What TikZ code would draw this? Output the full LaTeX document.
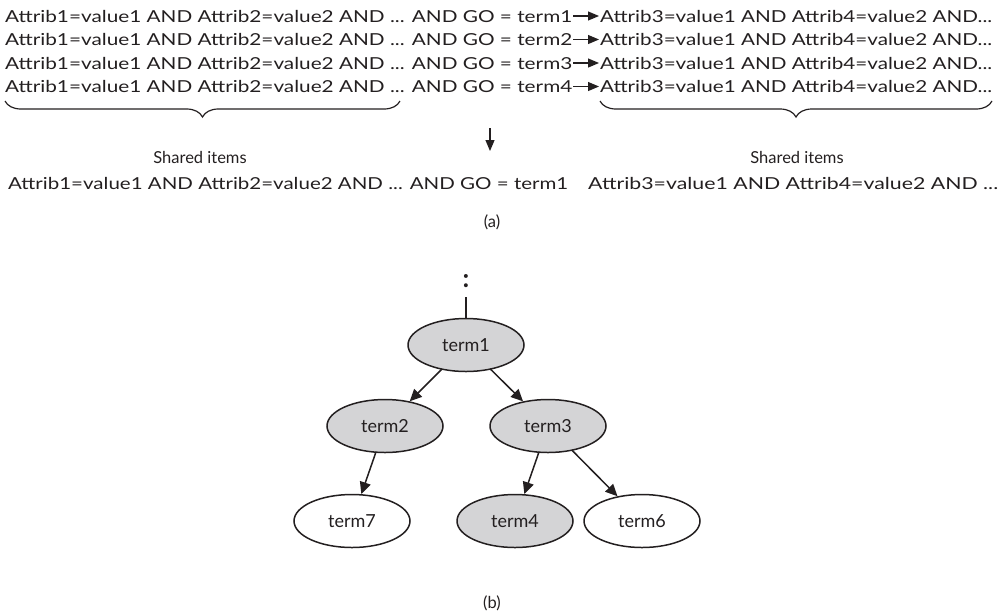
\documentclass[tikz,border=0pt]{standalone}
\usepackage{fontspec}
\setmainfont{Lato}
\usetikzlibrary{arrows.meta,decorations.pathreplacing,shapes.geometric}
\definecolor{ink}{HTML}{231F20}
\definecolor{shade}{HTML}{D4D4D6}
% set a line of text to a given width, keeping its height
\newcommand{\fitto}[2]{\resizebox{#1}{\height}{#2}}
\tikzset{
  txt/.style={inner sep=0pt, text=ink, font=\fontsize{16.5}{20}\selectfont},
  term/.style={ellipse, draw=ink, line width=1.5pt, minimum width=116pt, minimum height=53pt,
               inner sep=0pt, text=ink, font=\fontsize{18}{21}\selectfont},
  filled/.style={term, fill=shade},
  plain/.style={term, fill=white},
  link/.style={draw=ink, line width=1.5pt, -{Triangle[length=12pt,width=11pt]}, shorten <=-1pt},
  rowarrow/.style={draw=ink, line width=1.2pt, -{Triangle[length=11pt,width=9pt]}},
  bracket/.style={draw=ink, line width=1.2pt, decorate, decoration={brace, amplitude=16pt}},
}
\begin{document}
\begin{tikzpicture}[x=1pt,y=1pt]
\useasboundingbox (0,0) rectangle (1004,-611);

% the four rules
\foreach \k/\yy in {1/-16,2/-39.5,3/-63,4/-86.5}{
  \node[txt, anchor=west] (l\k) at (5,\yy)
    {\fitto{567pt}{Attrib1=value1 AND Attrib2=value2 AND ... AND GO = term\k}};
  \node[txt, anchor=west] (r\k) at (600,\yy)
    {\fitto{392pt}{Attrib3=value1 AND Attrib4=value2 AND...}};
  \draw[rowarrow] ([xshift=1pt]l\k.east) -- ([xshift=-1pt]r\k.west);
}

% braces over the shared items
\coordinate (bl1) at (400,-101); \coordinate (bl2) at (5,-101);
\coordinate (br1) at (992,-101); \coordinate (br2) at (600,-101);
\draw[bracket] (bl1) -- (bl2);
\draw[bracket] (br1) -- (br2);

\coordinate (da) at (490,-128);
\coordinate (db) at (490,-151);
\draw[rowarrow] (da) -- (db);

\node[txt] (sh1) at (200,-157) {Shared items};
\node[txt] (sh2) at (797,-157) {Shared items};
\node[txt, anchor=west] (res1) at (8,-183)
  {\fitto{560pt}{Attrib1=value1 AND Attrib2=value2 AND ... AND GO = term1}};
\node[txt, anchor=west] (res2) at (588,-183)
  {\fitto{410pt}{Attrib3=value1 AND Attrib4=value2 AND ...}};
\node[txt] (capa) at (492,-222) {(a)};

% the GO tree
\node[txt, font=\fontsize{26}{28}\bfseries] (dots) at (466,-281) {:};
\node[filled] (t1) at (466,-345) {term1};
\node[filled] (t2) at (385,-426) {term2};
\node[filled] (t3) at (548,-426) {term3};
\node[plain]  (t7) at (352,-521) {term7};
\node[filled] (t4) at (515,-521) {term4};
\node[plain]  (t6) at (642,-521) {term6};
\coordinate (up) at (466,-297);
\draw[ink, line width=1.5pt] (up) -- (t1.north);
\draw[link] (t1) -- (t2);
\draw[link] (t1) -- (t3);
\draw[link] (t2) -- (t7);
\draw[link] (t3) -- (t4);
\draw[link] (t3) -- (t6);
\node[txt] (capb) at (492,-603) {(b)};
\end{tikzpicture}
\end{document}
